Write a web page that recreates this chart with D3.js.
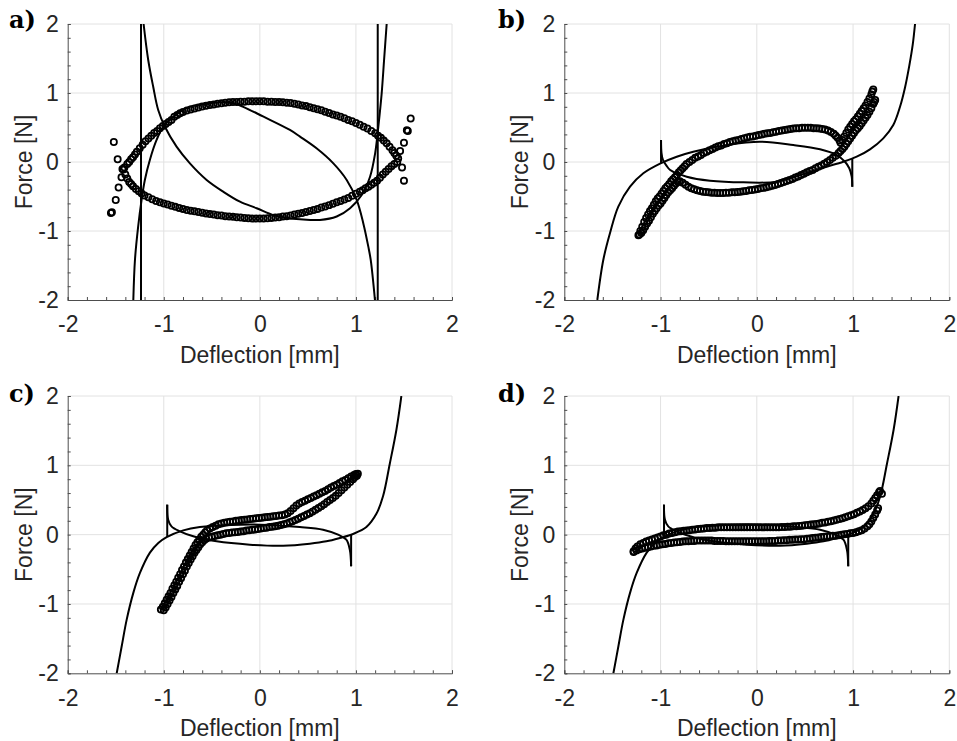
<!DOCTYPE html>
<html>
<head>
<meta charset="utf-8">
<script src="https://cdn.jsdelivr.net/npm/d3@7"></script>
<style>
  html, body { margin: 0; padding: 0; background: #fff; }
  svg { display: block; }
  .tick text { font-family: "Liberation Sans", Arial, sans-serif; }
</style>
</head>
<body>
<svg id="chart" width="957" height="741"></svg>
<script>
// ── Axis data ────────────────────────────────────────────────────────────────
const xTicks      = [-2, -1, 0, 1, 2];
const yTicks      = [-2, -1, 0, 1, 2];
const minorTicks  = [-2, -1.8, -1.6, -1.4, -1.2, -1, -0.8, -0.6, -0.4, -0.2, 0,
                     0.2, 0.4, 0.6, 0.8, 1, 1.2, 1.4, 1.6, 1.8, 2];
const panelLabels = ['a)', 'b)', 'c)', 'd)'];
const xLabel = 'Deflection [mm]';
const yLabel = 'Force [N]';

// ── Panel a: measured (circles) ──────────────────────────────────────────────
const expA_upper = [
  [-1.41,-0.08],[-1.38,-0.03],[-1.36,0.00],[-1.34,0.04],[-1.32,0.07],[-1.30,0.11],[-1.28,0.15],
  [-1.25,0.20],[-1.22,0.25],[-1.19,0.30],[-1.16,0.34],[-1.13,0.38],[-1.10,0.42],[-1.07,0.45],
  [-1.04,0.49],[-1.01,0.52],[-0.98,0.55],[-0.95,0.58],[-0.92,0.61],[-0.89,0.655],[-0.86,0.68],
  [-0.83,0.705],[-0.80,0.725],[-0.76,0.745],[-0.72,0.76],[-0.68,0.775],[-0.64,0.79],[-0.60,0.805],
  [-0.56,0.815],[-0.52,0.825],[-0.48,0.835],[-0.44,0.845],[-0.40,0.85],[-0.36,0.86],[-0.32,0.865],
  [-0.28,0.87],[-0.24,0.87],[-0.20,0.875],[-0.16,0.875],[-0.12,0.88],[-0.08,0.88],[-0.04,0.88],
  [0.00,0.88],[0.04,0.88],[0.08,0.875],[0.12,0.875],[0.16,0.87],[0.20,0.87],[0.24,0.865],
  [0.28,0.86],[0.32,0.855],[0.36,0.845],[0.40,0.835],[0.44,0.82],[0.48,0.81],[0.52,0.795],
  [0.56,0.78],[0.60,0.765],[0.64,0.75],[0.68,0.73],[0.72,0.71],[0.76,0.69],[0.80,0.675],
  [0.84,0.655],[0.88,0.635],[0.92,0.61],[0.96,0.59],[1.00,0.565],[1.04,0.54],[1.08,0.51],
  [1.12,0.485],[1.16,0.45],[1.20,0.415],[1.23,0.38],[1.26,0.35],[1.29,0.31],[1.32,0.27],
  [1.35,0.22],[1.38,0.17],[1.40,0.13],[1.42,0.09],[1.44,0.05]
];
const expA_lower = [
  [1.43,0.00],[1.40,-0.03],[1.37,-0.06],[1.34,-0.10],[1.31,-0.14],[1.28,-0.18],[1.25,-0.23],
  [1.22,-0.27],[1.19,-0.30],[1.16,-0.33],[1.13,-0.36],[1.10,-0.38],[1.07,-0.41],[1.04,-0.43],
  [1.00,-0.46],[0.96,-0.49],[0.92,-0.52],[0.88,-0.545],[0.84,-0.565],[0.80,-0.585],[0.76,-0.605],
  [0.72,-0.625],[0.68,-0.645],[0.64,-0.66],[0.60,-0.68],[0.56,-0.695],[0.52,-0.71],[0.48,-0.725],
  [0.44,-0.74],[0.40,-0.75],[0.36,-0.76],[0.32,-0.775],[0.28,-0.785],[0.24,-0.79],[0.20,-0.80],
  [0.16,-0.805],[0.12,-0.81],[0.08,-0.815],[0.04,-0.82],[0.00,-0.82],[-0.04,-0.82],[-0.08,-0.82],
  [-0.12,-0.815],[-0.16,-0.81],[-0.20,-0.805],[-0.24,-0.80],[-0.28,-0.795],[-0.32,-0.79],
  [-0.36,-0.785],[-0.40,-0.775],[-0.44,-0.77],[-0.48,-0.76],[-0.52,-0.755],[-0.56,-0.745],
  [-0.60,-0.735],[-0.64,-0.725],[-0.68,-0.715],[-0.72,-0.705],[-0.76,-0.695],[-0.80,-0.68],
  [-0.84,-0.665],[-0.88,-0.65],[-0.92,-0.635],[-0.96,-0.615],[-1.00,-0.60],[-1.04,-0.585],
  [-1.08,-0.565],[-1.12,-0.54],[-1.16,-0.51],[-1.20,-0.485],[-1.23,-0.455],[-1.26,-0.425],
  [-1.29,-0.39],[-1.32,-0.35],[-1.34,-0.32],[-1.36,-0.29],[-1.38,-0.24],[-1.40,-0.18],[-1.42,-0.11]
];
const expA_outliers = [
  [-1.52,0.29],[-1.48,0.04],[-1.43,-0.10],[-1.44,-0.22],[-1.47,-0.37],[-1.50,-0.55],[-1.55,-0.74],
  [-1.54,-0.73],[1.57,0.63],[1.54,0.45],[1.53,0.46],[1.50,0.28],[1.46,0.16],[1.48,-0.08],[1.50,-0.27]
];
// ── Panel a: model (lines) ───────────────────────────────────────────────────
const modelA_up = [
  [-1.317,-2.0],[-1.30,-1.42],[-1.267,-0.94],[-1.231,-0.55],[-1.197,-0.26],[-1.145,0.03],
  [-1.075,0.32],[-1.006,0.51],[-0.90,0.656],[-0.728,0.80],[-0.55,0.845],[-0.38,0.865],
  [-0.27,0.85],[-0.173,0.80],[0.033,0.66],[0.313,0.464],[0.418,0.367],[0.59,0.198],
  [0.765,-0.02],[0.904,-0.26],[1.008,-0.55],[1.077,-0.89],[1.129,-1.227],[1.154,-1.42],[1.198,-2.0]
];
const modelA_down = [
  [1.32,2.0],[1.293,1.478],[1.268,0.995],[1.233,0.51],[1.2,0.126],[1.147,-0.213],[1.06,-0.478],
  [0.939,-0.67],[0.8,-0.79],[0.626,-0.84],[0.418,-0.83],[0.28,-0.81],[0.14,-0.77],[-0.033,-0.67],
  [-0.207,-0.575],[-0.381,-0.43],[-0.554,-0.26],[-0.728,-0.02],[-0.867,0.222],[-0.988,0.51],
  [-1.058,0.754],[-1.11,1.09],[-1.162,1.478],[-1.21,2.0]
];
const modelA_jumpL = [[-1.237,2.0],[-1.237,-2.0]];
const modelA_jumpR = [[1.227,-2.0],[1.227,2.0]];

// ── Panel b ──────────────────────────────────────────────────────────────────
const expB_upper = [
  [-1.23,-1.06],[-1.21,-1.00],[-1.19,-0.94],[-1.17,-0.87],[-1.15,-0.81],[-1.13,-0.76],[-1.11,-0.71],
  [-1.09,-0.67],[-1.07,-0.62],[-1.05,-0.57],[-1.03,-0.53],[-1.01,-0.50],[-0.99,-0.46],[-0.97,-0.42],
  [-0.95,-0.38],[-0.93,-0.35],[-0.91,-0.32],[-0.89,-0.28],[-0.87,-0.25],[-0.85,-0.22],[-0.83,-0.19],
  [-0.81,-0.15],[-0.79,-0.12],[-0.77,-0.09],[-0.75,-0.06],[-0.73,-0.03],[-0.70,0.00],[-0.67,0.03],
  [-0.64,0.06],[-0.61,0.08],[-0.58,0.10],[-0.55,0.13],[-0.52,0.15],[-0.49,0.17],[-0.46,0.19],
  [-0.43,0.21],[-0.40,0.23],[-0.37,0.24],[-0.34,0.26],[-0.31,0.27],[-0.28,0.29],[-0.25,0.30],
  [-0.22,0.31],[-0.19,0.32],[-0.16,0.335],[-0.13,0.345],[-0.10,0.355],[-0.07,0.365],[-0.04,0.37],
  [-0.01,0.38],[0.02,0.39],[0.05,0.40],[0.08,0.41],[0.11,0.415],[0.14,0.42],[0.17,0.43],
  [0.20,0.44],[0.23,0.45],[0.26,0.455],[0.29,0.465],[0.32,0.47],[0.35,0.48],[0.38,0.485],
  [0.41,0.49],[0.44,0.49],[0.47,0.495],[0.50,0.495],[0.53,0.495],[0.56,0.495],[0.59,0.49],
  [0.62,0.49],[0.65,0.485],[0.68,0.48],[0.71,0.47],[0.74,0.455],[0.77,0.435],[0.80,0.41],
  [0.82,0.38],[0.84,0.35],[0.86,0.31],[0.87,0.28],[0.89,0.32],[0.91,0.37],[0.93,0.42],
  [0.95,0.47],[0.97,0.51],[0.99,0.55],[1.01,0.59],[1.03,0.62],[1.05,0.66],[1.07,0.70],
  [1.09,0.74],[1.11,0.78],[1.13,0.82],[1.15,0.87],[1.17,0.92],[1.19,0.98],[1.20,1.02],[1.21,1.05]
];
const expB_lower = [
  [-1.22,-1.05],[-1.20,-1.03],[-1.18,-0.99],[-1.16,-0.94],[-1.14,-0.89],[-1.12,-0.85],[-1.10,-0.80],
  [-1.08,-0.75],[-1.06,-0.71],[-1.04,-0.67],[-1.02,-0.63],[-1.00,-0.60],[-0.98,-0.56],[-0.96,-0.52],
  [-0.94,-0.48],[-0.92,-0.44],[-0.90,-0.41],[-0.88,-0.38],[-0.86,-0.345],[-0.84,-0.31],[-0.82,-0.29],
  [-0.80,-0.28],[-0.77,-0.30],[-0.74,-0.33],[-0.71,-0.36],[-0.68,-0.38],[-0.65,-0.395],[-0.62,-0.41],
  [-0.59,-0.42],[-0.56,-0.43],[-0.53,-0.435],[-0.50,-0.44],[-0.47,-0.445],[-0.44,-0.445],
  [-0.41,-0.45],[-0.38,-0.45],[-0.35,-0.45],[-0.32,-0.445],[-0.29,-0.445],[-0.26,-0.44],
  [-0.23,-0.44],[-0.20,-0.435],[-0.17,-0.43],[-0.14,-0.425],[-0.11,-0.42],[-0.08,-0.41],
  [-0.05,-0.405],[-0.02,-0.40],[0.01,-0.39],[0.04,-0.38],[0.07,-0.375],[0.10,-0.365],[0.13,-0.355],
  [0.16,-0.345],[0.19,-0.335],[0.22,-0.32],[0.25,-0.305],[0.28,-0.29],[0.31,-0.275],[0.34,-0.26],
  [0.37,-0.245],[0.40,-0.225],[0.43,-0.21],[0.46,-0.19],[0.49,-0.17],[0.52,-0.15],[0.55,-0.13],
  [0.58,-0.115],[0.61,-0.09],[0.64,-0.07],[0.67,-0.05],[0.70,-0.025],[0.73,0.00],[0.76,0.03],
  [0.79,0.06],[0.82,0.09],[0.85,0.13],[0.87,0.16],[0.89,0.19],[0.91,0.22],[0.93,0.26],[0.95,0.30],
  [0.97,0.34],[0.99,0.38],[1.01,0.42],[1.03,0.46],[1.05,0.49],[1.07,0.52],[1.09,0.56],[1.11,0.60],
  [1.13,0.64],[1.15,0.68],[1.17,0.73],[1.19,0.78],[1.21,0.84],[1.22,0.87],[1.23,0.90]
];
const modelB_up = [
  [-1.657,-2.0],[-1.595,-1.42],[-1.525,-1.03],[-1.439,-0.648],[-1.317,-0.358],[-1.179,-0.164],
  [-1.0,-0.02],[-0.832,0.077],[-0.66,0.149],[-0.313,0.246],[0.033,0.294],[0.379,0.246],
  [0.657,0.184],[0.83,0.101],[0.916,0.004],[0.961,-0.091],[0.986,-0.213],[0.992,-0.357]
];
const modelB_down = [
  [1.644,2.0],[1.62,1.70],[1.585,1.40],[1.54,1.08],[1.488,0.80],[1.418,0.536],[1.314,0.343],
  [1.176,0.184],[1.038,0.077],[0.899,0.004],[0.726,-0.068],[0.553,-0.14],[0.207,-0.285],
  [-0.14,-0.295],[-0.486,-0.271],[-0.728,-0.213],[-0.9,-0.116],[-0.94,-0.05],[-0.975,0.03],
  [-0.99,0.13],[-0.995,0.32]
];
const modelB_jumpL = [[-0.995,0.32],[-0.995,-0.02]];
const modelB_jumpR = [[0.992,-0.357],[0.992,0.053]];

// ── Panel c ──────────────────────────────────────────────────────────────────
const expC_upper = [
  [-1.03,-1.08],[-1.01,-1.04],[-0.99,-0.99],[-0.97,-0.94],[-0.95,-0.89],[-0.93,-0.84],[-0.91,-0.78],
  [-0.89,-0.73],[-0.87,-0.68],[-0.85,-0.62],[-0.83,-0.57],[-0.81,-0.51],[-0.79,-0.46],[-0.77,-0.40],
  [-0.75,-0.35],[-0.73,-0.30],[-0.71,-0.25],[-0.69,-0.20],[-0.67,-0.15],[-0.65,-0.11],[-0.63,-0.07],
  [-0.61,-0.03],[-0.59,0.00],[-0.57,0.03],[-0.55,0.06],[-0.52,0.09],[-0.49,0.11],[-0.46,0.13],
  [-0.43,0.15],[-0.40,0.16],[-0.37,0.17],[-0.34,0.18],[-0.31,0.185],[-0.28,0.19],[-0.25,0.20],
  [-0.22,0.205],[-0.19,0.21],[-0.16,0.215],[-0.13,0.22],[-0.10,0.225],[-0.07,0.23],[-0.04,0.235],
  [-0.01,0.24],[0.02,0.245],[0.05,0.25],[0.08,0.255],[0.11,0.26],[0.14,0.265],[0.17,0.27],
  [0.20,0.275],[0.23,0.28],[0.26,0.29],[0.29,0.31],[0.32,0.34],[0.35,0.38],[0.38,0.42],[0.41,0.45],
  [0.44,0.47],[0.47,0.49],[0.50,0.51],[0.53,0.53],[0.56,0.55],[0.59,0.57],[0.62,0.59],[0.65,0.61],
  [0.68,0.63],[0.71,0.655],[0.74,0.68],[0.77,0.70],[0.80,0.72],[0.83,0.745],[0.86,0.77],[0.89,0.79],
  [0.92,0.815],[0.95,0.84],[0.98,0.86],[1.00,0.875],[1.02,0.88]
];
const expC_lower = [
  [-1.00,-1.09],[-0.98,-1.05],[-0.96,-1.00],[-0.94,-0.95],[-0.92,-0.90],[-0.90,-0.84],[-0.88,-0.79],
  [-0.86,-0.74],[-0.84,-0.68],[-0.82,-0.63],[-0.80,-0.57],[-0.78,-0.52],[-0.76,-0.46],[-0.74,-0.41],
  [-0.72,-0.36],[-0.70,-0.31],[-0.68,-0.26],[-0.66,-0.22],[-0.64,-0.18],[-0.62,-0.14],[-0.60,-0.11],
  [-0.58,-0.08],[-0.56,-0.06],[-0.53,-0.04],[-0.50,-0.03],[-0.47,-0.02],[-0.44,-0.01],[-0.41,0.00],
  [-0.38,0.01],[-0.35,0.02],[-0.32,0.025],[-0.29,0.03],[-0.26,0.035],[-0.23,0.04],[-0.20,0.045],
  [-0.17,0.05],[-0.14,0.06],[-0.11,0.065],[-0.08,0.07],[-0.05,0.075],[-0.02,0.08],[0.01,0.09],
  [0.04,0.095],[0.07,0.10],[0.10,0.11],[0.13,0.115],[0.16,0.12],[0.19,0.13],[0.22,0.14],[0.25,0.15],
  [0.28,0.16],[0.31,0.18],[0.34,0.195],[0.37,0.21],[0.40,0.23],[0.43,0.25],[0.46,0.27],[0.49,0.29],
  [0.52,0.31],[0.55,0.335],[0.58,0.36],[0.61,0.385],[0.64,0.41],[0.67,0.44],[0.70,0.47],[0.73,0.50],
  [0.76,0.53],[0.79,0.56],[0.82,0.60],[0.85,0.64],[0.88,0.68],[0.91,0.72],[0.94,0.76],[0.97,0.80],
  [0.99,0.83],[1.01,0.85]
];

// ── Panel d ──────────────────────────────────────────────────────────────────
const expD_upper = [
  [-1.28,-0.24],[-1.26,-0.20],[-1.24,-0.17],[-1.21,-0.14],[-1.18,-0.12],[-1.15,-0.10],[-1.12,-0.085],
  [-1.09,-0.07],[-1.06,-0.055],[-1.03,-0.04],[-1.00,-0.025],[-0.97,-0.01],[-0.94,0.00],[-0.91,0.015],
  [-0.88,0.025],[-0.85,0.035],[-0.82,0.045],[-0.79,0.05],[-0.76,0.055],[-0.73,0.06],[-0.70,0.065],
  [-0.67,0.07],[-0.64,0.075],[-0.61,0.08],[-0.58,0.085],[-0.55,0.09],[-0.52,0.095],[-0.49,0.095],
  [-0.46,0.10],[-0.43,0.10],[-0.40,0.105],[-0.37,0.105],[-0.34,0.105],[-0.31,0.105],[-0.28,0.105],
  [-0.25,0.105],[-0.22,0.105],[-0.19,0.105],[-0.16,0.105],[-0.13,0.105],[-0.10,0.105],[-0.07,0.105],
  [-0.04,0.105],[-0.01,0.105],[0.02,0.105],[0.05,0.105],[0.08,0.105],[0.11,0.105],[0.14,0.105],
  [0.17,0.105],[0.20,0.105],[0.23,0.105],[0.26,0.11],[0.29,0.11],[0.32,0.115],[0.35,0.115],
  [0.38,0.12],[0.41,0.12],[0.44,0.125],[0.47,0.13],[0.50,0.135],[0.53,0.14],[0.56,0.145],
  [0.59,0.15],[0.62,0.155],[0.65,0.16],[0.68,0.17],[0.71,0.175],[0.74,0.185],[0.77,0.195],
  [0.80,0.205],[0.83,0.215],[0.86,0.225],[0.89,0.235],[0.92,0.25],[0.95,0.265],[0.98,0.28],
  [1.01,0.295],[1.04,0.315],[1.07,0.335],[1.10,0.355],[1.13,0.38],[1.16,0.41],[1.19,0.45],
  [1.21,0.49],[1.23,0.53],[1.25,0.57],[1.27,0.61],[1.28,0.63],[1.30,0.59]
];
const expD_lower = [
  [-1.28,-0.25],[-1.25,-0.23],[-1.22,-0.21],[-1.19,-0.20],[-1.16,-0.19],[-1.13,-0.18],[-1.10,-0.17],
  [-1.07,-0.16],[-1.04,-0.155],[-1.01,-0.145],[-0.98,-0.14],[-0.95,-0.135],[-0.92,-0.125],
  [-0.89,-0.12],[-0.86,-0.115],[-0.83,-0.11],[-0.80,-0.105],[-0.77,-0.10],[-0.74,-0.095],
  [-0.71,-0.095],[-0.68,-0.09],[-0.65,-0.09],[-0.62,-0.085],[-0.59,-0.085],[-0.56,-0.085],
  [-0.53,-0.085],[-0.50,-0.085],[-0.47,-0.085],[-0.44,-0.09],[-0.41,-0.09],[-0.38,-0.09],
  [-0.35,-0.09],[-0.32,-0.095],[-0.29,-0.095],[-0.26,-0.095],[-0.23,-0.095],[-0.20,-0.095],
  [-0.17,-0.095],[-0.14,-0.095],[-0.11,-0.095],[-0.08,-0.095],[-0.05,-0.095],[-0.02,-0.095],
  [0.01,-0.095],[0.04,-0.095],[0.07,-0.095],[0.10,-0.095],[0.13,-0.09],[0.16,-0.09],[0.19,-0.09],
  [0.22,-0.085],[0.25,-0.085],[0.28,-0.08],[0.31,-0.08],[0.34,-0.075],[0.37,-0.075],[0.40,-0.07],
  [0.43,-0.07],[0.46,-0.065],[0.49,-0.065],[0.52,-0.06],[0.55,-0.055],[0.58,-0.05],[0.61,-0.045],
  [0.64,-0.04],[0.67,-0.035],[0.70,-0.03],[0.73,-0.025],[0.76,-0.02],[0.79,-0.015],[0.82,-0.015],
  [0.85,-0.01],[0.88,0.00],[0.91,0.005],[0.94,0.01],[0.97,0.02],[1.00,0.025],[1.03,0.035],
  [1.06,0.05],[1.09,0.065],[1.12,0.09],[1.15,0.12],[1.17,0.15],[1.19,0.19],[1.21,0.24],
  [1.23,0.29],[1.25,0.35],[1.26,0.38]
];
// ── Panels c and d share the same model curve ────────────────────────────────
const modelCD_up = [
  [-1.49,-2.0],[-1.438,-1.61],[-1.386,-1.226],[-1.317,-0.84],[-1.248,-0.553],[-1.144,-0.26],
  [-1.057,-0.12],[-0.97,-0.035],[-0.797,0.062],[-0.624,0.11],[-0.3,0.14],[0.0,0.144],[0.416,0.11],
  [0.658,0.072],[0.814,0.0],[0.90,-0.072],[0.936,-0.216],[0.95,-0.457]
];
const modelCD_down = [
  [1.473,2.0],[1.421,1.51],[1.352,1.02],[1.282,0.553],[1.213,0.3],[1.109,0.11],[0.97,0.01],
  [0.832,-0.048],[0.693,-0.096],[0.52,-0.13],[0.242,-0.159],[-0.104,-0.144],[-0.45,-0.096],
  [-0.693,-0.024],[-0.832,0.048],[-0.92,0.12],[-0.955,0.22],[-0.964,0.433]
];
const modelCD_jumpL = [[-0.964,0.433],[-0.964,-0.035]];
const modelCD_jumpR = [[0.95,-0.457],[0.95,0.01]];

// ── Layout ───────────────────────────────────────────────────────────────────
const GRID_COLOR  = '#e2e2e2';
const AXIS_COLOR  = '#4d4d4d';
const TEXT_COLOR  = '#262626';
const SANS        = '"Liberation Sans", Arial, sans-serif';

const panels = [
  { box: { l: 67.7,  r: 452,   t: 24,  b: 300 },   lab: [9, 28],
    exp: [expA_upper, expA_lower, expA_outliers],
    model: [modelA_up, modelA_down], jumps: [modelA_jumpL, modelA_jumpR] },
  { box: { l: 564.3, r: 949.3, t: 24,  b: 300 },   lab: [498, 28],
    exp: [expB_upper, expB_lower],
    model: [modelB_up, modelB_down], jumps: [modelB_jumpL, modelB_jumpR] },
  { box: { l: 67.7,  r: 452,   t: 396, b: 673.3 }, lab: [9, 402],
    exp: [expC_upper, expC_lower],
    model: [modelCD_up, modelCD_down], jumps: [modelCD_jumpL, modelCD_jumpR] },
  { box: { l: 564.3, r: 949.3, t: 396, b: 673.3 }, lab: [498, 402],
    exp: [expD_upper, expD_lower],
    model: [modelCD_up, modelCD_down], jumps: [modelCD_jumpL, modelCD_jumpR] },
];

const svg = d3.select('#chart');

panels.forEach((p, i) => {
  const { l, r, t, b } = p.box;
  const x = d3.scaleLinear().domain([-2, 2]).range([l, r]);
  const y = d3.scaleLinear().domain([-2, 2]).range([b, t]);
  const g = svg.append('g');

  // grid
  g.append('g').selectAll('line').data(xTicks.filter(v => v > -2))
    .join('line').attr('x1', d => x(d)).attr('x2', d => x(d)).attr('y1', t).attr('y2', b)
    .attr('stroke', GRID_COLOR).attr('stroke-width', 1);
  g.append('g').selectAll('line').data(yTicks.filter(v => v > -2))
    .join('line').attr('y1', d => y(d)).attr('y2', d => y(d)).attr('x1', l).attr('x2', r)
    .attr('stroke', GRID_COLOR).attr('stroke-width', 1);

  // minor ticks (inward) without labels
  const xMinor = d3.axisBottom(x).tickValues(minorTicks).tickSize(-3).tickFormat('');
  const yMinor = d3.axisLeft(y).tickValues(minorTicks).tickSize(-3).tickFormat('');
  [g.append('g').attr('transform', `translate(0,${b})`).call(xMinor),
   g.append('g').attr('transform', `translate(${l},0)`).call(yMinor)].forEach(a => {
    a.select('.domain').attr('stroke', AXIS_COLOR);
    a.selectAll('.tick line').attr('stroke', AXIS_COLOR);
  });

  // major labels
  const xMajor = d3.axisBottom(x).tickValues(xTicks).tickSize(0).tickPadding(16);
  const yMajor = d3.axisLeft(y).tickValues(yTicks).tickSize(0).tickPadding(9);
  [g.append('g').attr('transform', `translate(0,${b})`).call(xMajor),
   g.append('g').attr('transform', `translate(${l},0)`).call(yMajor)].forEach(a => {
    a.select('.domain').remove();
    a.selectAll('.tick text').attr('font-size', 23).attr('fill', TEXT_COLOR)
      .text(d => d < 0 ? '-' + Math.abs(d) : d);
  });

  // axis titles
  g.append('text').attr('x', (l + r) / 2).attr('y', b + 63)
    .attr('text-anchor', 'middle').attr('font-family', SANS).attr('font-size', 23)
    .attr('fill', TEXT_COLOR).text(xLabel);
  g.append('text')
    .attr('transform', `translate(${l - 36},${(t + b) / 2}) rotate(-90)`)
    .attr('text-anchor', 'middle').attr('font-family', SANS).attr('font-size', 23)
    .attr('fill', TEXT_COLOR).text(yLabel);

  // panel label
  g.append('text').attr('x', p.lab[0]).attr('y', p.lab[1])
    .attr('font-family', '"DejaVu Serif", serif').attr('font-weight', 'bold')
    .attr('font-size', 24).attr('fill', '#000').text(panelLabels[i]);

  // clip
  const clipId = 'clip' + i;
  svg.append('clipPath').attr('id', clipId).append('rect')
    .attr('x', l).attr('y', t).attr('width', r - l).attr('height', b - t);
  const plot = g.append('g').attr('clip-path', `url(#${clipId})`);

  // measured points
  p.exp.forEach(series => {
    plot.append('g').selectAll('circle').data(series).join('circle')
      .attr('cx', d => x(d[0])).attr('cy', d => y(d[1])).attr('r', 3.1)
      .attr('fill', 'none').attr('stroke', '#000').attr('stroke-width', 1.8);
  });

  // model
  const line = d3.line().x(d => x(d[0])).y(d => y(d[1])).curve(d3.curveCatmullRom.alpha(0.5));
  p.model.concat(p.jumps).forEach(series => {
    plot.append('path').datum(series).attr('d', line)
      .attr('fill', 'none').attr('stroke', '#000').attr('stroke-width', 2);
  });
});
</script>
</body>
</html>
